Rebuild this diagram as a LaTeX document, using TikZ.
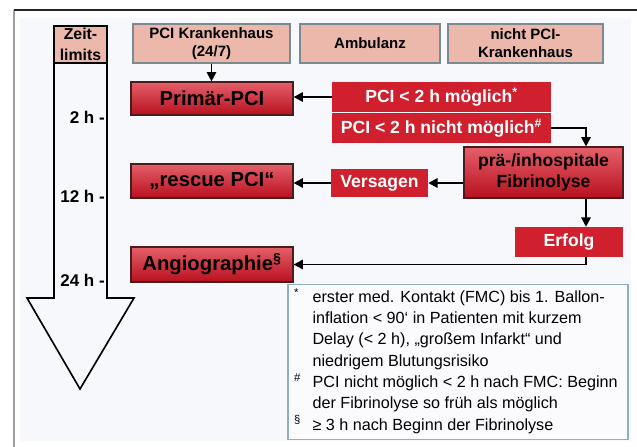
\documentclass[tikz,border=0pt]{standalone}
\usepackage{fontspec}
\setmainfont{Liberation Sans}
\usetikzlibrary{arrows.meta}
\definecolor{headpink}{HTML}{ECB8AC}
\definecolor{headgray}{HTML}{7A8A90}
\definecolor{flatred}{HTML}{D0202E}
\definecolor{gradtop}{HTML}{E4606A}
\definecolor{gradbot}{HTML}{B8101E}
\definecolor{boxedge}{HTML}{4A1C1C}
\definecolor{notefill}{HTML}{FBFBFD}
\definecolor{noteedge}{HTML}{8DAFC0}
\definecolor{panel}{HTML}{F6F8FC}
\newcommand{\fsz}[2]{\fontsize{#1}{#2}\selectfont}

\begin{document}
\begin{tikzpicture}[
    x=0.03cm, y=-0.03cm,
    head/.style={fill=headpink, draw=headgray, line width=1pt, align=center, font=\fsz{12.8}{15.4}\bfseries, inner sep=0pt},
    redbox/.style={top color=gradtop, bottom color=gradbot, draw=boxedge, line width=1pt, font=\fsz{17.3}{18}\bfseries, inner sep=0pt},
    flatbox/.style={fill=flatred, text=white, font=\fsz{15}{18}\bfseries, inner sep=0pt},
    timelbl/.style={font=\fsz{14.5}{16}\bfseries, anchor=east, inner sep=0pt},
    conn/.style={line width=1.7pt, -{Triangle[length=8pt,width=8pt]}},
]
\useasboundingbox (0,0) rectangle (637,447);

% Frame
\fill[white] (0,0) rectangle (637,447);
\fill[panel] (20,18) rectangle (631,441);
\draw[gray!75, line width=1.7pt] (14,10) -- (14,447);
\draw[black!85, line width=1pt] (14,10) -- (637,10);

% Time axis
\draw[line width=1.4pt] (54,26) -- (107,26) -- (107,298) -- (134,298) -- (80,389) -- (27,298) -- (54,298) -- cycle;
\node[head, font=\fsz{13.5}{18}\bfseries, minimum width=1.59cm, minimum height=1.11cm, line width=1.4pt, draw=black] (zeit) at (80.5,44.5) {Zeit-\\limits};
\node[timelbl] (t2) at (105,117) {2 h -};
\node[timelbl] (t12) at (105,196) {12 h -};
\node[timelbl] (t24) at (105,280) {24 h -};

% Column headers
\node[head, minimum width=4.71cm, minimum height=1.17cm] (pcikh) at (211.5,43.5) {PCI Krankenhaus\\(24/7)};
\node[head, minimum width=4.2cm, minimum height=1.17cm] (amb) at (370,43.5) {Ambulanz};
\node[head, minimum width=4.65cm, minimum height=1.17cm] (npci) at (525.5,43.5) {nicht PCI-\\Krankenhaus};

% Boxes
\node[redbox, minimum width=4.86cm, minimum height=0.99cm] (primaer) at (212,98.5) {Primär-PCI};
\node[redbox, minimum width=4.86cm, minimum height=1.02cm] (rescue) at (212,181) {„rescue PCI“};
\node[redbox, minimum width=4.86cm, minimum height=1.05cm] (angio) at (212,264.5) {Angiographie\textsuperscript{\S}};
\node[flatbox, minimum width=6.57cm, minimum height=0.9cm] (moegl) at (441.5,97) {PCI < 2 h möglich\textsuperscript{*}};
\node[flatbox, minimum width=6.57cm, minimum height=0.9cm] (nmoegl) at (441.5,128) {PCI < 2 h nicht möglich\textsuperscript{\#}};
\node[redbox, minimum width=4.77cm, minimum height=1.53cm, align=center, font=\fsz{15}{18.5}\bfseries] (fibrin) at (543.5,172.5) {prä-/inhospitale\\Fibrinolyse};
\node[flatbox, minimum width=2.91cm, minimum height=0.84cm] (versag) at (379.5,183) {Versagen};
\node[flatbox, minimum width=3.24cm, minimum height=0.9cm] (erfolg) at (569,242) {Erfolg};

% Connectors
\coordinate (rail) at (586,0);
\draw[conn] (pcikh.south) -- (pcikh.south |- primaer.north);
\draw[conn] (moegl.west) -- (moegl.west -| primaer.east);
\draw[conn] (nmoegl.east) -| (rail |- fibrin.north);
\draw[conn] (versag.east -| fibrin.west) -- (versag.east);
\draw[conn] (versag.west) -- (versag.west -| rescue.east);
\draw[conn] (rail |- fibrin.south) -- (rail |- erfolg.north);
\draw[conn] (rail |- erfolg.south) |- (angio.east);

% Footnotes
\node[draw=noteedge, fill=notefill, line width=1pt, minimum width=10.2cm, minimum height=4.65cm] (notes) at (458,362) {};
\node[anchor=north west, inner sep=0pt, font=\fsz{13.8}{18.2}] (notetxt) at (294,287) {%
  \begin{tabular}{@{}p{0.55cm}@{}l@{}}
  \textsuperscript{*} & erster med. Kontakt (FMC) bis 1. Ballon-\\
   & inflation < 90‘ in Patienten mit kurzem\\
   & Delay (< 2 h), „großem Infarkt“ und\\
   & niedrigem Blutungsrisiko\\
  \textsuperscript{\#} & PCI nicht möglich < 2 h nach FMC: Beginn\\
   & der Fibrinolyse so früh als möglich\\
  \textsuperscript{\S} & ≥ 3 h nach Beginn der Fibrinolyse
  \end{tabular}};
\end{tikzpicture}
\end{document}
